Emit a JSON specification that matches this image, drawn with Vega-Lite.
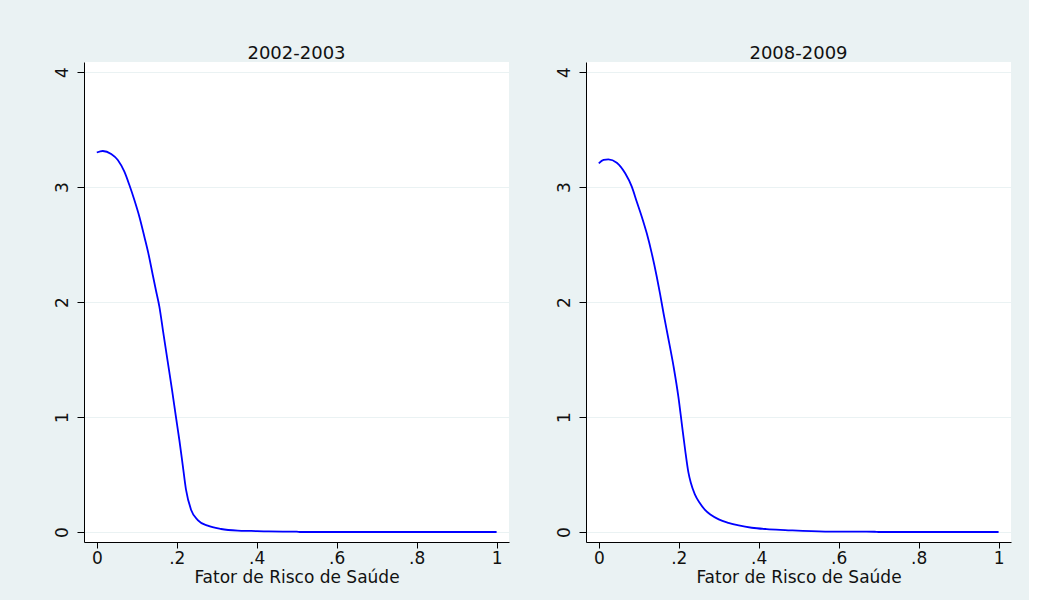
{
  "$schema": "https://vega.github.io/schema/vega-lite/v6.json",
  "background": "#EAF2F3",
  "padding": {"left": 53, "top": 45, "right": 18, "bottom": 15},
  "spacing": 46,
  "config": {
    "font": "DejaVu Sans",
    "view": {"fill": "white", "stroke": null},
    "axis": {
      "domainColor": "black",
      "tickColor": "black",
      "labelColor": "#111",
      "titleColor": "#111",
      "labelFont": "DejaVu Sans",
      "titleFont": "DejaVu Sans",
      "labelFontSize": 17,
      "titleFontSize": 17,
      "titleFontWeight": "normal"
    },
    "title": {"fontSize": 18, "fontWeight": "normal", "color": "#111", "font": "DejaVu Sans", "offset": 4}
  },
  "datasets": {
    "a": [
      {"x": 0.0, "y": 3.30}, {"x": 0.015, "y": 3.313}, {"x": 0.036, "y": 3.287}, {"x": 0.0525, "y": 3.235},
      {"x": 0.069, "y": 3.133}, {"x": 0.0815, "y": 3.017}, {"x": 0.094, "y": 2.887}, {"x": 0.1065, "y": 2.742},
      {"x": 0.119, "y": 2.568}, {"x": 0.129, "y": 2.423}, {"x": 0.14, "y": 2.235}, {"x": 0.148, "y": 2.10},
      {"x": 0.1565, "y": 1.96}, {"x": 0.166, "y": 1.74}, {"x": 0.177, "y": 1.49}, {"x": 0.188, "y": 1.24},
      {"x": 0.198, "y": 1.0}, {"x": 0.2065, "y": 0.80}, {"x": 0.215, "y": 0.58}, {"x": 0.223, "y": 0.37},
      {"x": 0.236, "y": 0.191}, {"x": 0.2525, "y": 0.104}, {"x": 0.2775, "y": 0.055}, {"x": 0.311, "y": 0.026},
      {"x": 0.3525, "y": 0.012}, {"x": 0.386, "y": 0.009}, {"x": 0.43, "y": 0.005}, {"x": 0.5, "y": 0.003},
      {"x": 0.51, "y": 0.0}, {"x": 0.6, "y": 0.0}, {"x": 0.7, "y": 0.0}, {"x": 0.8, "y": 0.0}, {"x": 0.9, "y": 0.0}, {"x": 1.0, "y": 0.0}
    ],
    "b": [
      {"x": 0.0, "y": 3.206}, {"x": 0.012, "y": 3.235}, {"x": 0.024, "y": 3.24}, {"x": 0.045, "y": 3.211},
      {"x": 0.066, "y": 3.119}, {"x": 0.0825, "y": 3.003}, {"x": 0.095, "y": 2.872}, {"x": 0.1075, "y": 2.742},
      {"x": 0.12, "y": 2.597}, {"x": 0.1325, "y": 2.423}, {"x": 0.145, "y": 2.22}, {"x": 0.153, "y": 2.075},
      {"x": 0.162, "y": 1.9}, {"x": 0.173, "y": 1.70}, {"x": 0.187, "y": 1.44}, {"x": 0.199, "y": 1.177},
      {"x": 0.2075, "y": 0.945}, {"x": 0.216, "y": 0.713}, {"x": 0.224, "y": 0.52}, {"x": 0.23, "y": 0.43},
      {"x": 0.24, "y": 0.33}, {"x": 0.253, "y": 0.25}, {"x": 0.265, "y": 0.195}, {"x": 0.28, "y": 0.15},
      {"x": 0.3, "y": 0.11}, {"x": 0.324, "y": 0.08}, {"x": 0.35, "y": 0.057}, {"x": 0.3825, "y": 0.037},
      {"x": 0.42, "y": 0.025}, {"x": 0.466, "y": 0.017}, {"x": 0.566, "y": 0.004}, {"x": 0.69, "y": 0.002},
      {"x": 0.7, "y": 0.0}, {"x": 0.8, "y": 0.0}, {"x": 0.9, "y": 0.0}, {"x": 1.0, "y": 0.0}
    ]
  },
  "hconcat": [
    {
      "title": {"text": "2002-2003", "dy": 5},
      "width": 425,
      "height": 480,
      "data": {"name": "a"},
      "mark": {"type": "line", "color": "blue", "strokeWidth": 1.8, "interpolate": "monotone"},
      "encoding": {
        "x": {"field": "x", "type": "quantitative",
          "scale": {"domain": [-0.032, 1.031], "nice": false, "zero": false},
          "axis": {"values": [0, 0.2, 0.4, 0.6, 0.8, 1], "labelExpr": "replace(format(datum.value, '.1~f'), '0.', '.')",
            "grid": false, "tickSize": 6, "labelPadding": 2, "title": "Fator de Risco de Saúde", "titlePadding": 3}},
        "y": {"field": "y", "type": "quantitative",
          "scale": {"domain": [-0.087, 4.087], "nice": false, "zero": false},
          "axis": {"values": [0, 1, 2, 3, 4], "labelAngle": -90, "labelAlign": "center", "labelBaseline": "bottom",
            "grid": true, "gridColor": "#EAF2F3", "tickSize": 7, "labelPadding": 6, "title": null}}
      }
    },
    {
      "title": {"text": "2008-2009", "dy": 5},
      "width": 425,
      "height": 480,
      "data": {"name": "b"},
      "mark": {"type": "line", "color": "blue", "strokeWidth": 1.8, "interpolate": "monotone"},
      "encoding": {
        "x": {"field": "x", "type": "quantitative",
          "scale": {"domain": [-0.032, 1.031], "nice": false, "zero": false},
          "axis": {"values": [0, 0.2, 0.4, 0.6, 0.8, 1], "labelExpr": "replace(format(datum.value, '.1~f'), '0.', '.')",
            "grid": false, "tickSize": 6, "labelPadding": 2, "title": "Fator de Risco de Saúde", "titlePadding": 3}},
        "y": {"field": "y", "type": "quantitative",
          "scale": {"domain": [-0.087, 4.087], "nice": false, "zero": false},
          "axis": {"values": [0, 1, 2, 3, 4], "labelAngle": -90, "labelAlign": "center", "labelBaseline": "bottom",
            "grid": true, "gridColor": "#EAF2F3", "tickSize": 7, "labelPadding": 6, "title": null}}
      }
    }
  ]
}
